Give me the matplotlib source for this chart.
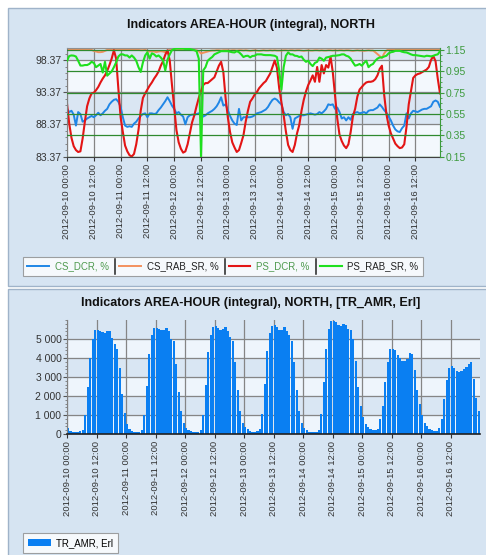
import numpy as np
import pandas as pd
import matplotlib
matplotlib.use("Agg")
import matplotlib.pyplot as plt
import matplotlib.dates as mdates
from matplotlib.patches import Rectangle
from matplotlib.lines import Line2D
from matplotlib.ticker import AutoMinorLocator, FuncFormatter

plt.rcParams['font.family'] = ['Liberation Sans', 'DejaVu Sans']

# hourly timestamps, 2012-09-10 00:00 .. 2012-09-16 23:00
hours = pd.date_range('2012-09-10 00:00', periods=168, freq='h')

cs_dcr = [
    90.8, 90.3, 90.5, 89.9, 88.2, 90.3, 90.0, 88.8, 89.0, 89.3, 89.5, 89.7, 89.5, 89.8, 90.2, 89.8, 90.1, 90.5, 90.8, 91.5, 91.9, 92.2, 92.3, 91.9,
    91.1, 89.5, 88.2, 88.0, 88.1, 88.0, 88.5, 88.8, 89.3, 89.7, 90.0, 90.1, 89.5, 90.1, 90.1, 90.0, 90.1, 90.6, 91.0, 91.5, 92.0, 92.6, 92.0, 91.3,
    90.8, 90.1, 90.3, 89.9, 89.6, 88.4, 89.5, 89.8, 89.9, 89.9, 90.0, 90.1, 90.2, 89.6, 89.8, 90.1, 90.3, 90.5, 90.8, 91.2, 91.8, 92.6, 91.3, 91.5,
    90.6, 89.7, 89.0, 88.5, 88.3, 90.8, 89.0, 89.5, 89.5, 89.5, 89.5, 89.6, 89.8, 90.1, 90.2, 90.3, 90.5, 90.7, 91.1, 91.7, 92.2, 92.4, 92.2, 91.8,
    91.5, 90.3, 89.8, 90.0, 89.5, 87.7, 89.3, 89.5, 89.7, 89.8, 89.8, 89.9, 90.0, 90.1, 90.0, 89.9, 90.0, 90.3, 90.1, 90.4, 90.8, 91.5, 91.4, 91.5,
    90.8, 91.0, 90.3, 89.3, 89.5, 89.0, 89.5, 89.1, 90.0, 90.2, 90.3, 90.1, 90.2, 90.3, 90.1, 90.5, 90.6, 90.6, 90.8, 91.0, 91.5, 91.1, 90.6, 90.2,
    89.6, 89.0, 88.2, 87.6, 87.3, 87.2, 87.8, 88.2, 90.1, 89.3, 90.1, 90.5, 90.4, 90.3, 90.5, 90.7, 90.8, 90.8, 91.0, 91.2, 91.9, 92.1, 91.9, 91.1,
]

cs_rab_sr = [
    100.05, 100.05, 100.0, 100.05, 100.05, 100.0, 100.05, 100.05, 100.0, 100.05, 100.0, 99.95, 99.8, 99.7, 99.6, 99.6, 99.65, 99.8, 99.95, 100.0, 100.0, 100.05, 100.0, 100.0,
    100.0, 100.0, 100.05, 100.0, 100.0, 100.0, 99.95, 100.0, 99.95, 99.9, 99.9, 99.95, 99.8, 99.7, 99.75, 99.7, 99.6, 99.7, 99.75, 99.7, 99.6, 99.8, 99.95, 100.0,
    100.05, 100.05, 100.05, 100.0, 100.05, 100.05, 100.0, 100.0, 99.95, 99.9, 99.9, 99.75, 99.4, 99.5, 99.6, 99.7, 99.8, 99.85, 99.85, 99.9, 99.9, 99.85, 99.9, 99.9,
    99.9, 99.85, 99.9, 99.9, 99.85, 99.9, 99.9, 99.85, 99.9, 99.85, 99.8, 99.85, 99.9, 99.85, 99.8, 99.85, 99.9, 99.85, 99.85, 99.9, 99.85, 99.9, 99.85, 99.85,
    99.85, 99.9, 99.9, 99.85, 99.9, 99.9, 99.85, 99.9, 99.9, 99.85, 99.8, 99.85, 99.9, 99.85, 99.85, 99.9, 99.9, 99.85, 99.9, 99.85, 99.85, 99.9, 99.9, 99.85,
    99.9, 99.85, 99.9, 99.9, 99.85, 99.9, 99.9, 99.85, 99.8, 99.85, 99.9, 99.85, 99.85, 99.8, 99.85, 99.9, 99.85, 99.85, 99.6, 99.3, 99.0, 98.7, 99.4, 99.85,
    100.0, 100.0, 100.05, 100.0, 100.0, 100.05, 100.0, 100.0, 100.05, 100.0, 99.95, 100.0, 100.0, 99.95, 100.0, 100.0, 99.95, 99.95, 100.0, 99.95, 99.95, 100.0, 99.95, 99.95,
]

ps_dcr = [
    91.6, 88.5, 86.3, 85.0, 84.4, 84.1, 84.2, 86.2, 88.8, 91.2, 92.4, 93.2, 93.3, 93.7, 94.2, 94.9, 95.5, 96.0, 96.7, 97.6, 98.6, 99.9, 98.6, 93.9,
    89.5, 87.2, 85.1, 84.2, 83.6, 83.4, 83.8, 85.3, 87.5, 90.5, 92.5, 93.2, 93.8, 94.4, 94.9, 95.5, 96.0, 96.6, 97.5, 98.2, 99.2, 99.9, 98.3, 94.5,
    91.0, 87.5, 85.6, 84.6, 84.0, 84.2, 85.3, 87.0, 88.7, 89.8, 91.2, 92.5, 93.6, 94.5, 94.8, 94.8, 95.1, 95.4, 95.7, 96.6, 97.5, 98.1, 96.5, 92.5,
    89.5, 87.2, 85.6, 84.8, 84.1, 84.4, 85.5, 86.7, 88.8, 90.5, 91.9, 92.4, 93.0, 93.4, 94.0, 94.4, 94.8, 95.1, 95.7, 96.3, 97.3, 98.3, 97.2, 94.0,
    91.8, 89.8, 87.3, 85.2, 84.4, 84.1, 85.2, 87.0, 88.3, 90.5, 92.2, 93.5, 94.5, 95.2, 96.0, 95.0, 97.3, 95.0, 97.6, 96.3, 97.6, 97.2, 98.9, 96.5,
    92.9, 89.3, 86.8, 85.8, 85.1, 84.7, 85.3, 87.2, 89.6, 90.8, 92.7, 93.8, 94.2, 94.6, 94.9, 95.0, 95.0, 95.1, 95.4, 96.0, 97.0, 97.5, 93.0, 90.0,
    88.2, 87.0, 86.2, 85.4, 85.0, 84.7, 84.8, 85.3, 88.0, 91.5, 93.5, 95.6, 96.0, 96.2, 96.3, 96.5, 96.7, 96.9, 97.3, 98.4, 99.0, 98.2, 95.5, 93.2,
]

ps_rab_sr = [
    1.05, 1.095, 1.10, 1.098, 1.09, 1.05, 1.005, 1.005, 1.01, 1.01, 1.02, 1.04, 1.03, 0.99, 1.005, 1.02, 0.94, 1.04, 0.91, 0.93, 0.95, 0.99, 1.035, 1.09,
    1.11, 1.11, 1.10, 1.10, 1.08, 1.10, 1.08, 1.05, 0.99, 0.945, 1.035, 1.10, 1.13, 1.07, 1.12, 1.11, 1.09, 1.10, 1.08, 1.055, 0.96, 1.06, 1.11, 1.15,
    1.16, 1.165, 1.165, 1.165, 1.165, 1.16, 1.16, 1.16, 1.155, 1.15, 1.14, 1.07, 0.15, 0.96, 0.99, 1.05, 1.07, 1.085, 1.11, 1.12, 1.13, 1.14, 1.14, 1.14,
    1.14, 1.135, 1.13, 1.128, 1.14, 1.13, 1.11, 1.085, 1.095, 1.097, 1.082, 1.095, 1.097, 1.11, 1.11, 1.11, 1.105, 1.103, 1.103, 1.103, 1.10, 1.097, 1.085, 0.96,
    0.78, 0.99, 1.097, 1.128, 1.11, 1.11, 1.097, 1.095, 1.085, 1.09, 1.06, 1.04, 1.05, 1.02, 1.0, 1.03, 1.04, 1.08, 1.07, 1.05, 1.08, 1.085, 1.09, 1.097,
    1.097, 1.10, 1.103, 1.11, 1.11, 1.097, 1.09, 1.07, 1.035, 1.004, 1.01, 1.02, 1.004, 1.03, 1.05, 0.99, 1.01, 1.02, 1.05, 1.07, 1.081, 1.081, 1.09, 1.097,
    1.12, 1.13, 1.134, 1.143, 1.143, 1.143, 1.135, 1.13, 1.128, 1.12, 1.11, 1.103, 1.103, 1.10, 1.097, 1.095, 1.09, 1.097, 1.095, 1.091, 1.097, 1.105, 1.11, 1.14,
]

tr_amr = [
    300, 150, 100, 80, 90, 150, 200, 1000, 2500, 4000, 5000, 5450, 5450, 5400, 5350, 5300, 5400, 5400, 5050, 4750, 4500, 3500, 2100, 1100,
    550, 250, 150, 100, 80, 80, 200, 1000, 2550, 4200, 5200, 5600, 5600, 5550, 5500, 5450, 5600, 5400, 5000, 4900, 3700, 2200, 1200, 600,
    300, 200, 150, 100, 80, 100, 200, 1000, 2600, 4300, 5200, 5650, 5700, 5600, 5450, 5550, 5650, 5400, 5100, 4900, 3800, 2300, 1200, 600,
    350, 250, 150, 100, 100, 150, 250, 1050, 2650, 4350, 5300, 5700, 5750, 5650, 5500, 5450, 5650, 5400, 5200, 4900, 3800, 2300, 1200, 600,
    300, 200, 100, 100, 80, 100, 200, 1050, 2750, 4500, 5550, 5950, 5950, 5900, 5750, 5700, 5800, 5750, 5550, 5450, 5000, 3850, 2500, 1500,
    900, 550, 350, 250, 200, 200, 250, 800, 1500, 2750, 3800, 4450, 4500, 4400, 4150, 4000, 3850, 3850, 3950, 4250, 4200, 3350, 2300, 1600,
    1000, 600, 400, 250, 200, 150, 150, 300, 800, 1850, 2850, 3500, 3600, 3500, 3300, 3250, 3300, 3400, 3550, 3700, 3800, 2900, 1900, 1200,
]

left_ticks = [83.37, 88.37, 93.37, 98.37]
right_ticks = [0.15, 0.35, 0.55, 0.75, 0.95, 1.15]
bar_ticks = [0, 1000, 2000, 3000, 4000, 5000]

W, H = 486, 555
fig = plt.figure(figsize=(W / 100, H / 100), dpi=100)
fig.patch.set_facecolor('white')


def box(x, y, w, h):
    # pixel box (from top-left) -> figure fraction
    return [x / W, 1 - (y + h) / H, w / W, h / H]


panel_bg = '#d6e4f2'
for y0, y1 in [(8, 286), (289, 560)]:
    fig.patches.append(Rectangle((8 / W, 1 - y1 / H), 1, (y1 - y0) / H,
                                 transform=fig.transFigure, facecolor=panel_bg,
                                 edgecolor='#9fb3c9', lw=1, zorder=-10))

grid_gray = '#858585'
green_axis = '#3c9a3c'
t0 = hours[0]

# ---- top chart ----
ax1 = fig.add_axes(box(67, 48.3, 373, 108.4))
ax1.set_facecolor('#f3f8fd')
ax1.axhspan(88.37, 93.37, color='#dae6f3', zorder=0)
ax1.axhspan(98.37, 100.2, color='#dae6f3', zorder=0)
l1, = ax1.plot(hours, cs_dcr, color='#1f86e6', lw=1.4)
l2, = ax1.plot(hours, cs_rab_sr, color='#f3915e', lw=1.4)
l3, = ax1.plot(hours, ps_dcr, color='#e31515', lw=1.5)
ax1.set_ylim(83.37, 100.2)
ax1.set_yticks(left_ticks)
ax1.yaxis.set_major_formatter(FuncFormatter(lambda v, p: f'{v:.2f}'))
ax1.yaxis.set_minor_locator(AutoMinorLocator(5))
ax1.set_xlim(t0, t0 + pd.Timedelta(hours=167))
ax1.grid(True, color=grid_gray, lw=0.9)

ax2 = ax1.twinx()
l4, = ax2.plot(hours, ps_rab_sr, color='#1ee01e', lw=1.5)
ax2.set_ylim(0.15, 1.167)
ax2.set_yticks(right_ticks)
ax2.yaxis.set_major_formatter(FuncFormatter(lambda v, p: f'{v:.2f}'))
ax2.yaxis.set_minor_locator(AutoMinorLocator(4))
ax2.grid(True, axis='y', color='#2f8a2f', lw=0.9)
ax2.tick_params(axis='y', colors=green_axis, labelsize=7.5, length=3, pad=1)
ax2.tick_params(axis='y', which='minor', colors=green_axis, length=1.5)
for s in ['top', 'left', 'bottom']:
    ax2.spines[s].set_visible(False)
ax2.spines['right'].set_color(green_axis)

ax1.spines['left'].set_color('#808080')
ax1.spines['top'].set_color('#909090')
ax1.spines['bottom'].set_color('#404040')
ax1.spines['right'].set_visible(False)

# ---- bottom chart ----
ax3 = fig.add_axes(box(67, 320, 413, 114))
ax3.set_facecolor('#eef5fc')
for lo in (1000, 3000, 5000):
    ax3.axhspan(lo, lo + 1000, color='#d9e6f3', zorder=0)
bars = ax3.bar(hours, tr_amr, width=0.88 / 24, align='edge', color='#0a7ff2',
               linewidth=0, zorder=2)
ax3.set_ylim(0, 6000)
ax3.set_yticks(bar_ticks)
ax3.yaxis.set_major_formatter(FuncFormatter(lambda v, p: f'{int(v):,}'.replace(',', ' ')))
ax3.yaxis.set_minor_locator(AutoMinorLocator(5))
ax3.set_xlim(t0, t0 + pd.Timedelta(hours=167.95))
ax3.grid(True, color=grid_gray, lw=0.9, zorder=1)
ax3.set_axisbelow(True)
ax3.spines['top'].set_visible(False)
ax3.spines['right'].set_visible(False)
ax3.spines['left'].set_color('#808080')
ax3.spines['bottom'].set_color('#202020')
ax3.spines['bottom'].set_linewidth(1.2)

for ax in (ax1, ax3):
    ax.xaxis.set_major_locator(mdates.HourLocator(byhour=[0, 12]))
    ax.xaxis.set_major_formatter(mdates.DateFormatter('%Y-%m-%d %H:%M'))
    ax.tick_params(axis='x', labelrotation=90, labelsize=6.8, length=3, pad=2,
                   colors='#333333', labelcolor='#333333')
    ax.tick_params(axis='y', labelsize=7.5, length=3, pad=1, colors='#555555',
                   labelcolor='#333333')
    ax.tick_params(axis='y', which='minor', length=1.5, colors='#777777')

fig.text(251 / W, 1 - 25 / H, 'Indicators AREA-HOUR (integral), NORTH',
         ha='center', va='center', fontsize=9, fontweight='bold', color='#111111')
fig.text(251 / W, 1 - 303 / H, 'Indicators AREA-HOUR (integral), NORTH, [TR_AMR, Erl]',
         ha='center', va='center', fontsize=9, fontweight='bold', color='#111111')

leg1 = fig.legend([l1, l2, l3, l4], ['CS_DCR, %', 'CS_RAB_SR, %', 'PS_DCR, %', 'PS_RAB_SR, %'],
                  loc='upper left', bbox_to_anchor=(23 / W, 1 - 257 / H), borderaxespad=0,
                  ncol=4, fontsize=7, frameon=True, fancybox=False, edgecolor='#8a8a8a',
                  borderpad=0.45, handlelength=2.2, handletextpad=0.6, columnspacing=1.1)
leg1.get_frame().set_linewidth(0.8)
for t, c in zip(leg1.get_texts(), ['#4f9a4f', '#222222', '#4f9a4f', '#222222']):
    t.set_color(c)

leg2 = fig.legend([bars], ['TR_AMR, Erl'], loc='upper left', bbox_to_anchor=(23 / W, 1 - 533 / H),
                  borderaxespad=0, fontsize=7, frameon=True, fancybox=False, edgecolor='#8a8a8a',
                  borderpad=0.5, handlelength=2.4, handleheight=0.8, handletextpad=0.5)
leg2.get_frame().set_linewidth(0.8)

# dark separators between the legend entries
fig.canvas.draw()
renderer = fig.canvas.get_renderer()
frame_bb = leg1.get_frame().get_window_extent(renderer)
for h in leg1.legend_handles[1:]:
    hb = h.get_window_extent(renderer)
    xs = hb.x0 - 4
    fig.add_artist(Line2D([xs / fig.bbox.width] * 2,
                          [(frame_bb.y0 + 2) / fig.bbox.height, (frame_bb.y1 - 2) / fig.bbox.height],
                          transform=fig.transFigure, color='#222222', lw=1.1, zorder=20))

fig.savefig('out.png', dpi=100)
